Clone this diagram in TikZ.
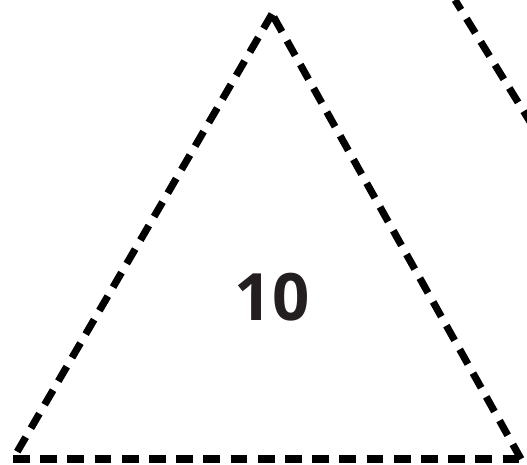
\documentclass[tikz,border=0pt]{standalone}
\usepackage{fontspec}
\setmainfont{Open Sans}
\usetikzlibrary{positioning}

\definecolor{inkdark}{HTML}{231F20}

\begin{document}
\begin{tikzpicture}[
    x=0.75pt, y=-0.75pt,
    edge/.style={draw=black, line width=5.4pt, dash pattern=on 12.6pt off 7.8pt, line join=miter},
    numlabel/.style={font=\fontsize{49}{49}\selectfont\bfseries, text=inkdark, inner sep=0pt}
]
\useasboundingbox (0,0) rectangle (527,464);

% --- Corners ---
\coordinate (apex)  at (272, 14);
\coordinate (left)  at (13, 459);
\coordinate (right) at (521, 459);

% --- Triangle ---
\draw[edge] (apex) -- (left);
\draw[edge] (left) -- (right);
\draw[edge] (right) -- (apex);

% --- Neighbouring triangle, cut off ---
\begin{scope}
\clip (0,0) rectangle (527,464);
\coordinate (nbtop) at (455, 0);
\coordinate (nbend) at (545, 146);
\draw[edge, dash phase=4pt] (nbtop) -- (nbend);
\end{scope}

% --- Label ---
\node[numlabel] (value) at (272, 297) {10};

\end{tikzpicture}
\end{document}
